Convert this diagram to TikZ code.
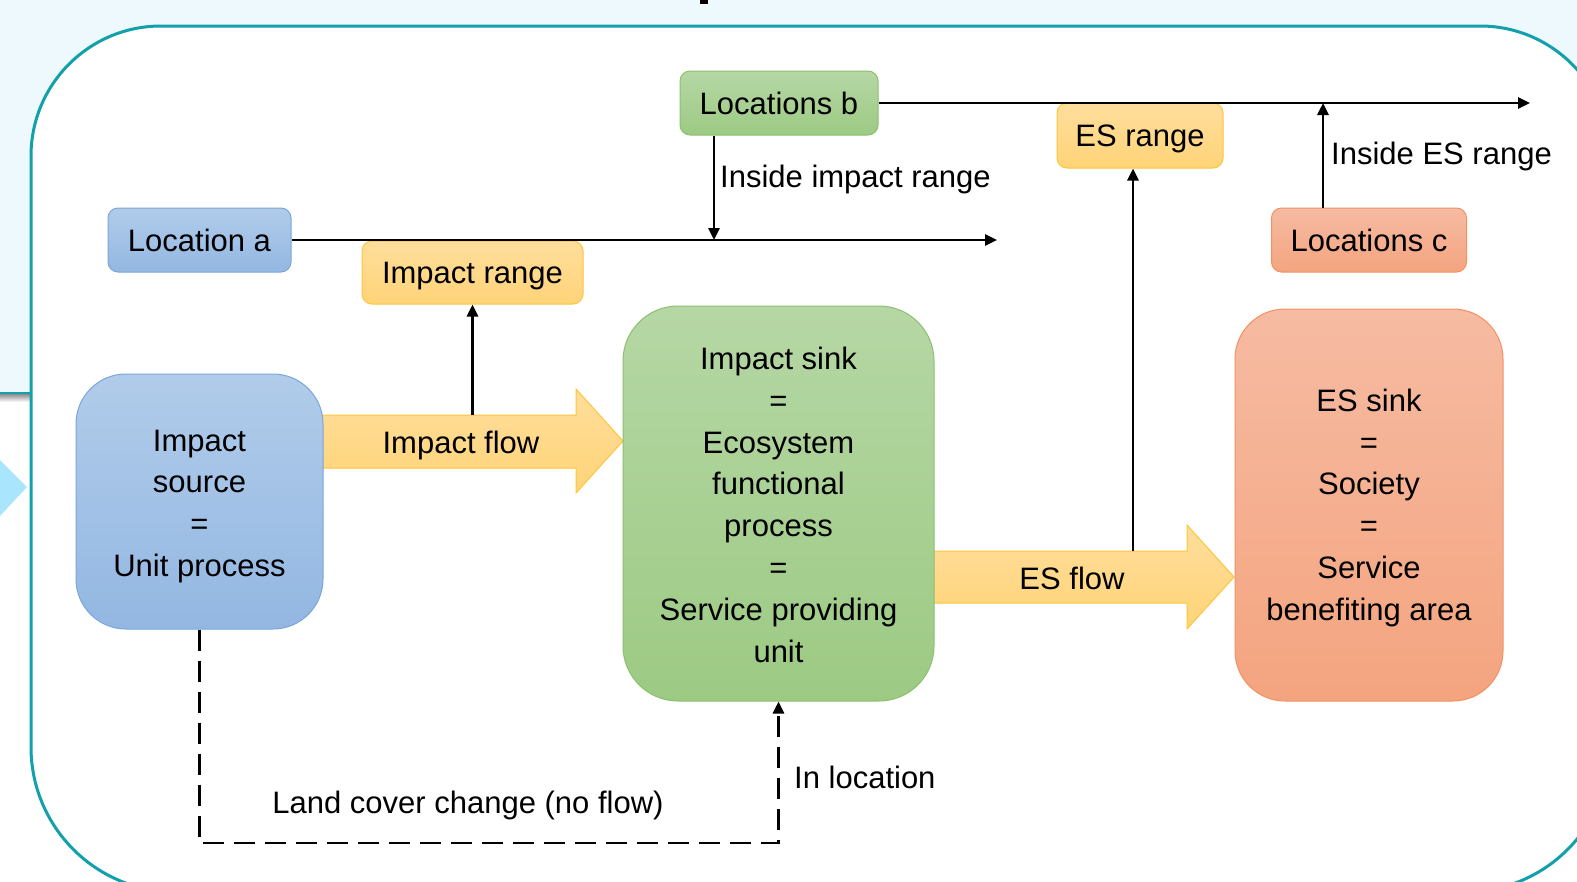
\documentclass[tikz,border=0pt]{standalone}
\usepackage{fontspec}
\setmainfont{Liberation Sans}
\usetikzlibrary{arrows.meta}
\definecolor{bgcyan}{HTML}{EDF9FD}
\definecolor{frameteal}{HTML}{12A0AC}
\definecolor{blueT}{HTML}{B1CCEA}
\definecolor{blueB}{HTML}{93B7E2}
\definecolor{blueD}{HTML}{7AA6DA}
\definecolor{greenT}{HTML}{B6D7A5}
\definecolor{greenB}{HTML}{9CCA83}
\definecolor{greenD}{HTML}{8CC06F}
\definecolor{yelT}{HTML}{FFDE9C}
\definecolor{yelB}{HTML}{FFD478}
\definecolor{yelD}{HTML}{FFC53A}
\definecolor{orgT}{HTML}{F6BBA2}
\definecolor{orgB}{HTML}{F4A47F}
\definecolor{orgD}{HTML}{F29262}
\definecolor{triblue}{HTML}{A9E5FC}
\begin{document}
\begin{tikzpicture}[x=1pt,y=-1pt,
  txt/.style={font=\fontsize{31}{41.8}\selectfont, align=center, inner sep=0pt},
  oneline/.style={txt, text height=23pt, text depth=1pt},
  tag/.style={oneline, rounded corners=10pt, line width=1pt},
  bigbox/.style={txt, line width=1pt},
  bluefill/.style={draw=blueD, top color=blueT, bottom color=blueB},
  greenfill/.style={draw=greenD, top color=greenT, bottom color=greenB},
  yelfill/.style={draw=yelD, top color=yelT, bottom color=yelB},
  orgfill/.style={draw=orgD, top color=orgT, bottom color=orgB},
  conn/.style={line width=2.8pt, -{Triangle[length=12pt,width=11pt]}},
  dashline/.style={line width=2.8pt, dash pattern=on 21pt off 10pt, -{Triangle[length=12pt,width=11pt]}},
]
\useasboundingbox (0,0) rectangle (1577,881);
% background
\fill[white] (0,0) rectangle (1577,881);
\fill[bgcyan] (0,0) rectangle (1577,393);
\shade[top color=black!45, bottom color=white] (0,394) rectangle (31,402);
\draw[frameteal, line width=1.5pt] (0,393) -- (31,393);
\fill[triblue] (0,460) -- (27,487) -- (0,516) -- cycle;
\fill[black] (700,0) rectangle (708,4);
% frame
\draw[frameteal, line width=3pt, fill=white]
  (31,747) -- (31,156) arc(180:270:130) -- (1480,26) arc(270:360:130)
  -- (1610,747) arc(0:90:145) -- (176,892) arc(90:180:145) -- cycle;
% block arrows
\draw[yelfill, line width=1pt] (318,415) -- (576,415) -- (576,389) -- (623,441)
  -- (576,493) -- (576,468) -- (318,468) -- cycle;
\draw[yelfill, line width=1pt] (930,551) -- (1187,551) -- (1187,525) -- (1234,577)
  -- (1187,629) -- (1187,603) -- (930,603) -- cycle;
% boxes
\node[bigbox, bluefill, rounded corners=50pt, minimum width=247pt, minimum height=255pt]
  (src) at (199.5,501.5) {\rule{0pt}{31pt}Impact\\source\\=\\Unit process};
\node[bigbox, greenfill, rounded corners=55pt, minimum width=311pt, minimum height=395pt]
  (sink) at (778.5,503.5) {\rule{0pt}{25pt}Impact sink\\=\\Ecosystem\\functional\\process\\=\\Service providing\\unit};
\node[bigbox, orgfill, rounded corners=50pt, minimum width=268pt, minimum height=392pt]
  (essink) at (1369,505) {\rule{0pt}{28pt}ES sink\\=\\Society\\=\\Service\\benefiting area};
\node[tag, bluefill, minimum width=183pt, minimum height=64pt] (loca) at (199.5,240) {Location a};
\node[tag, greenfill, minimum width=198pt, minimum height=64pt] (locb) at (779,103) {Locations b};
\node[tag, yelfill, minimum width=166pt, minimum height=65pt] (esrange) at (1140,135.5) {ES range};
\node[tag, orgfill, minimum width=195pt, minimum height=64pt] (locc) at (1369,240) {Locations c};
\node[tag, yelfill, minimum width=221pt, minimum height=63pt] (irange) at (472.5,272.5) {Impact range};
% flow labels
\node[oneline] (iflow) at (461,442) {Impact flow};
\node[oneline] (esflow) at (1072,578) {ES flow};
% connector coordinates
\coordinate (aend) at (997,240);
\coordinate (bend) at (1530,103);
\coordinate (ix) at (714,240);
\coordinate (ifup) at (472.5,415);
\coordinate (esup) at (1133,551);
\coordinate (cx) at (1323,103);
\coordinate (dc) at (778.5,843);
% connectors
\draw[conn] (loca.east) -- (aend);
\draw[conn] (locb.east) -- (bend);
\draw[conn] (locb.south -| ix) -- (ix);
\draw[conn] (ifup) -- (irange.south);
\draw[conn] (esup) -- (esrange.south -| esup);
\draw[conn] (locc.north -| cx) -- (cx);
\draw[dashline] (src.south) |- (dc) -- (sink.south);
% labels
\node[oneline, anchor=west] (lab1) at (720,176) {Inside impact range};
\node[oneline, anchor=west] (lab2) at (1331,153) {Inside ES range};
\node[oneline, anchor=west] (lab3) at (794,777) {In location};
\node[oneline] (lab4) at (468,802) {Land cover change (no flow)};
\end{tikzpicture}
\end{document}
